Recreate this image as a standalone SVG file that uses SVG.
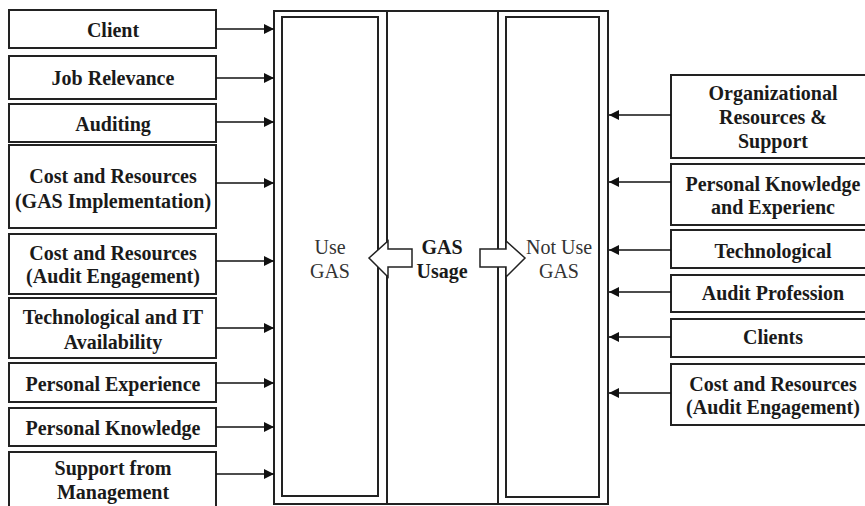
<svg xmlns="http://www.w3.org/2000/svg" width="865" height="506" viewBox="0 0 865 506">
<defs>
<marker id="ah" viewBox="0 0 10 10" refX="10" refY="5" markerWidth="10" markerHeight="10" markerUnits="userSpaceOnUse" orient="auto">
<path d="M0,0 L10,5 L0,10 Z" fill="#111"/>
</marker>
</defs>
<style>
.box{fill:#fff;stroke:#222;stroke-width:2}
.frame{fill:none;stroke:#222;stroke-width:2}
.lbl{font-family:"Liberation Serif",serif;font-weight:bold;font-size:20px;fill:#1a1a1a;text-anchor:middle}
.reg{font-family:"Liberation Serif",serif;font-size:20px;fill:#333;text-anchor:middle}
.con{stroke:#111;stroke-width:1.6;fill:none;marker-end:url(#ah)}
.blk{fill:#fff;stroke:#222;stroke-width:1.5}
</style>
<rect width="865" height="506" fill="#fff"/>

<g id="center">
<rect class="frame" x="274" y="11" width="334" height="493"/>
<line x1="387" y1="11" x2="387" y2="504" stroke="#222" stroke-width="2"/>
<line x1="498" y1="11" x2="498" y2="504" stroke="#222" stroke-width="2"/>
</g>
<g id="use-gas">
<rect class="frame" x="282" y="17" width="96" height="479"/>
<text class="reg" x="330" y="254">Use</text>
<text class="reg" x="330" y="278">GAS</text>
</g>
<g id="not-use-gas">
<rect class="frame" x="506" y="17" width="93" height="480"/>
<text class="reg" x="559" y="254">Not Use</text>
<text class="reg" x="559" y="278">GAS</text>
</g>
<g id="gas-usage">
<path class="blk" d="M412,249 L388,249 L388,241 L369,258 L388,277 L388,267 L412,267 Z"/>
<path class="blk" d="M480,249 L506,249 L506,241 L525,258 L506,277 L506,267 L480,267 Z"/>
<text class="lbl" x="442" y="254">GAS</text>
<text class="lbl" x="442" y="278">Usage</text>
</g>

<g id="l1"><rect class="box" x="9" y="10" width="207" height="38"/><text class="lbl" x="113" y="37">Client</text></g>
<g id="l2"><rect class="box" x="9" y="56" width="207" height="43"/><text class="lbl" x="113" y="85">Job Relevance</text></g>
<g id="l3"><rect class="box" x="9" y="104" width="207" height="38"/><text class="lbl" x="113" y="131">Auditing</text></g>
<g id="l4"><rect class="box" x="9" y="145" width="207" height="83"/><text class="lbl" x="113" y="183">Cost and Resources</text><text class="lbl" x="113" y="208">(GAS Implementation)</text></g>
<g id="l5"><rect class="box" x="9" y="234" width="207" height="60"/><text class="lbl" x="113" y="260">Cost and Resources</text><text class="lbl" x="113" y="283">(Audit Engagement)</text></g>
<g id="l6"><rect class="box" x="9" y="298" width="207" height="60"/><text class="lbl" x="113" y="324">Technological and IT</text><text class="lbl" x="113" y="349">Availability</text></g>
<g id="l7"><rect class="box" x="9" y="363" width="207" height="39"/><text class="lbl" x="113" y="391">Personal Experience</text></g>
<g id="l8"><rect class="box" x="9" y="408" width="207" height="38"/><text class="lbl" x="113" y="435">Personal Knowledge</text></g>
<g id="l9"><rect class="box" x="9" y="452" width="207" height="60"/><text class="lbl" x="113" y="475">Support from</text><text class="lbl" x="113" y="499">Management</text></g>

<g id="r1"><rect class="box" x="671" y="75" width="200" height="83"/><text class="lbl" x="773" y="100">Organizational</text><text class="lbl" x="773" y="124">Resources &amp;</text><text class="lbl" x="773" y="148">Support</text></g>
<g id="r2"><rect class="box" x="671" y="164" width="200" height="61"/><text class="lbl" x="773" y="191">Personal Knowledge</text><text class="lbl" x="773" y="214">and Experienc</text></g>
<g id="r3"><rect class="box" x="671" y="230" width="200" height="38"/><text class="lbl" x="773" y="258">Technological</text></g>
<g id="r4"><rect class="box" x="671" y="275" width="200" height="37"/><text class="lbl" x="773" y="300">Audit Profession</text></g>
<g id="r5"><rect class="box" x="671" y="319" width="200" height="38"/><text class="lbl" x="773" y="344">Clients</text></g>
<g id="r6"><rect class="box" x="671" y="364" width="200" height="61"/><text class="lbl" x="773" y="391">Cost and Resources</text><text class="lbl" x="773" y="414">(Audit Engagement)</text></g>

<g id="connectors">
<line class="con" x1="216" y1="29" x2="274" y2="29"/>
<line class="con" x1="216" y1="78" x2="274" y2="78"/>
<line class="con" x1="216" y1="122" x2="274" y2="122"/>
<line class="con" x1="216" y1="183" x2="274" y2="183"/>
<line class="con" x1="216" y1="261" x2="274" y2="261"/>
<line class="con" x1="216" y1="328" x2="274" y2="328"/>
<line class="con" x1="216" y1="383" x2="274" y2="383"/>
<line class="con" x1="216" y1="427" x2="274" y2="427"/>
<line class="con" x1="216" y1="474" x2="274" y2="474"/>
<line class="con" x1="671" y1="115" x2="609" y2="115"/>
<line class="con" x1="671" y1="182" x2="609" y2="182"/>
<line class="con" x1="671" y1="250" x2="609" y2="250"/>
<line class="con" x1="671" y1="292" x2="609" y2="292"/>
<line class="con" x1="671" y1="337" x2="609" y2="337"/>
<line class="con" x1="671" y1="393" x2="609" y2="393"/>
</g>
</svg>
